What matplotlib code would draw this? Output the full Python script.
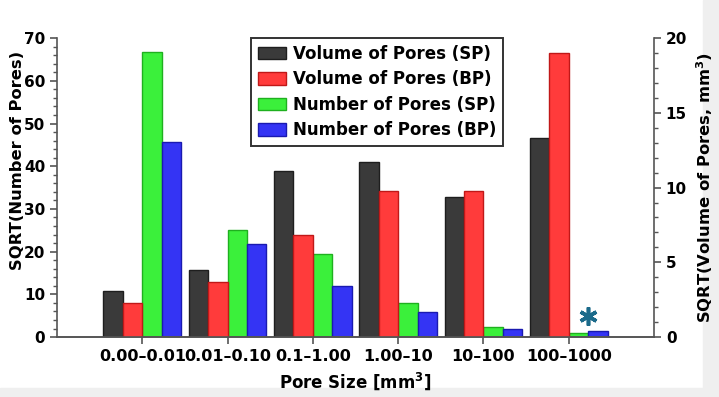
import numpy as np
import matplotlib.pyplot as plt
from matplotlib.patches import Rectangle

# pore size classes
categories = ['0.00–0.01', '0.01–0.10', '0.1–1.00', '1.00–10', '10–100', '100–1000']

# SQRT(volume of pores, mm^3)  -> right axis
vol_sp = [3.1, 4.5, 11.1, 11.7, 9.4, 13.3]
vol_bp = [2.3, 3.7, 6.8, 9.8, 9.8, 19.0]

# SQRT(number of pores)  -> left axis
num_sp = [66.8, 25.0, 19.4, 7.9, 2.3, 0.9]
num_bp = [45.6, 21.8, 12.0, 5.8, 2.0, 1.4]

# significance mark over the last group
star_group = 5
star_level = 5.0

plt.rcParams['font.family'] = 'DejaVu Sans'
plt.rcParams['font.weight'] = 'bold'


def main():
    fig = plt.figure(figsize=(7.19, 3.97), dpi=100)
    ax = fig.add_axes([0.0793, 0.151, 0.8303, 0.753])
    ax2 = ax.twinx()

    x = np.arange(len(categories))
    w = 0.228

    bars = []
    bars.append(ax2.bar(x - 1.5 * w, vol_sp, w, color='#3a3a3a',
                        edgecolor='#1e1e1e', linewidth=1))
    bars.append(ax2.bar(x - 0.5 * w, vol_bp, w, color='#ff3b3b',
                        edgecolor='#c01818', linewidth=1))
    bars.append(ax.bar(x + 0.5 * w, num_sp, w, color='#3bf03b',
                       edgecolor='#1fb01f', linewidth=1))
    bars.append(ax.bar(x + 1.5 * w, num_bp, w, color='#3434f4',
                       edgecolor='#1a1ab0', linewidth=1))

    # asterisk above the tiny bars
    ax.plot(star_group + w, star_level, marker=(6, 2, 0), markersize=13,
            markeredgewidth=2.6, color='#1b6a8a', zorder=5)

    # axes limits and ticks
    ax.set_xlim(-1, len(categories))
    ax.set_ylim(0, 70)
    ax2.set_ylim(0, 20)
    ax.set_xticks(x)
    ax.set_xticklabels(categories, fontsize=11.5, fontweight='bold')
    ax.set_yticks(np.arange(0, 71, 10))
    ax.set_yticks(np.arange(0, 71, 2), minor=True)
    ax2.set_yticks(np.arange(0, 21, 5))
    ax2.set_yticks(np.arange(0, 21, 1), minor=True)
    ax.tick_params(axis='y', labelsize=11, width=1.2, length=5, color='#555555')
    ax.tick_params(axis='y', which='minor', length=3, width=1, color='#555555')
    ax.tick_params(axis='x', length=5, width=1.2, color='#555555')
    ax2.tick_params(axis='y', labelsize=11, width=1.2, length=5, color='#555555')
    ax2.tick_params(axis='y', which='minor', length=3, width=1, color='#555555')
    for a in (ax, ax2):
        for lab in a.get_yticklabels():
            lab.set_fontweight('bold')
        a.spines['top'].set_visible(False)
        for s in a.spines.values():
            s.set_color('#555555')
            s.set_linewidth(1.2)
    ax2.spines['left'].set_visible(False)
    ax.spines['right'].set_visible(False)

    # labels
    ax.set_ylabel('SQRT(Number of Pores)', fontsize=11.8, fontweight='bold')
    ax.yaxis.set_label_coords(-0.054, 0.59)
    ax2.set_ylabel('SQRT(Volume of Pores, mm$^\\mathbf{3}$)', fontsize=11.8,
                   fontweight='bold')
    ax2.yaxis.set_label_coords(1.068, 0.5)
    ax.set_xlabel('Pore Size [mm$^\\mathbf{3}$]', fontsize=12,
                  fontweight='bold', labelpad=5)

    # legend
    names = ['Volume of Pores (SP)', 'Volume of Pores (BP)',
             'Number of Pores (SP)', 'Number of Pores (BP)']
    leg = ax2.legend(bars, names, loc='upper left', bbox_to_anchor=(0.325, 1.0),
                     borderaxespad=0, fancybox=False, framealpha=1,
                     edgecolor='#333333', prop={'size': 12, 'weight': 'bold'},
                     handlelength=1.7, handleheight=0.8, labelspacing=0.45,
                     handletextpad=0.4, borderpad=0.4)
    leg.get_frame().set_linewidth(1.4)
    leg.set_zorder(10)

    # light grey screenshot border
    fig.patches.append(Rectangle((0.978, 0), 0.022, 1, transform=fig.transFigure,
                                 color='#efefef', zorder=-1))
    fig.patches.append(Rectangle((0, 0), 1, 0.022, transform=fig.transFigure,
                                 color='#efefef', zorder=-1))

    fig.savefig('out.png', dpi=100)


if __name__ == "__main__":
    main()
